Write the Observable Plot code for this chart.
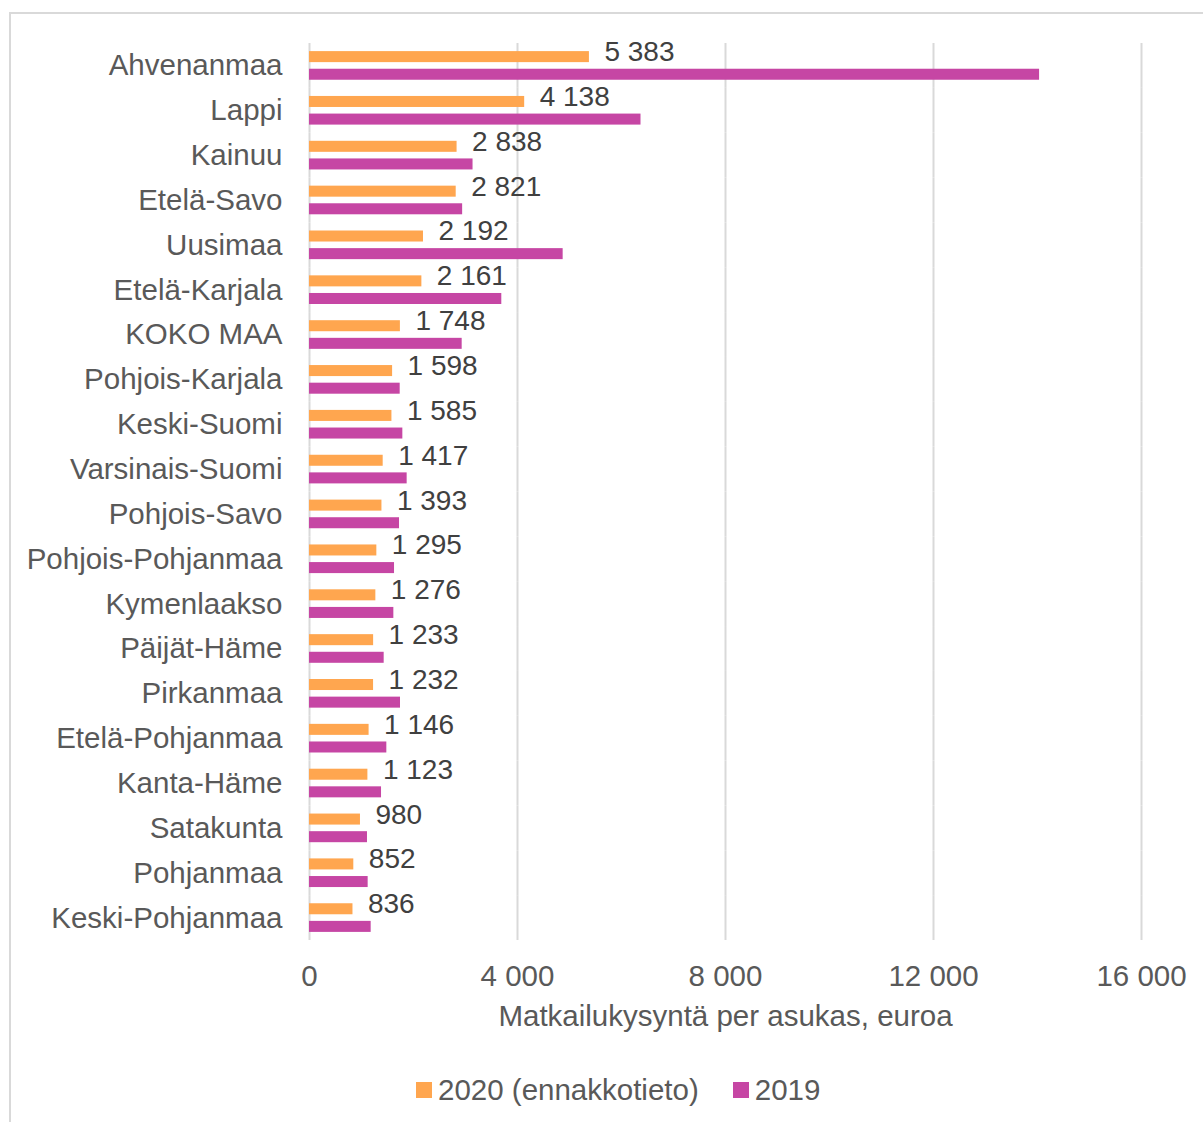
<!DOCTYPE html>
<html>
<head>
<meta charset="utf-8">
<script src="https://cdn.jsdelivr.net/npm/d3@7"></script>
<script src="https://cdn.jsdelivr.net/npm/@observablehq/plot@0.6"></script>
<style>
  html, body { margin: 0; padding: 0; background: #fff; }
  body { width: 1203px; height: 1122px; position: relative; overflow: hidden; font-family: "Liberation Sans", Arial, sans-serif; }
  #frame { position: absolute; left: 9px; top: 12px; width: 1400px; height: 1400px; border: 2px solid #d9d9d9; box-sizing: border-box; }
  #chart { position: absolute; left: 0; top: 0; }
  #legend { position: absolute; top: 1070px; left: 416px; height: 40px; display: flex; align-items: center; font-size: 29.5px; color: #595959; white-space: nowrap; }
  .sw { display: inline-block; width: 16px; height: 16px; margin-right: 6px; }
  .item { display: flex; align-items: center; margin-right: 34px; }
</style>
</head>
<body>
<div id="frame"></div>
<div id="chart"></div>
<div id="legend"></div>
<script>
const regions = ["Ahvenanmaa","Lappi","Kainuu","Etelä-Savo","Uusimaa","Etelä-Karjala","KOKO MAA","Pohjois-Karjala","Keski-Suomi","Varsinais-Suomi","Pohjois-Savo","Pohjois-Pohjanmaa","Kymenlaakso","Päijät-Häme","Pirkanmaa","Etelä-Pohjanmaa","Kanta-Häme","Satakunta","Pohjanmaa","Keski-Pohjanmaa"];
const values2020 = [5383,4138,2838,2821,2192,2161,1748,1598,1585,1417,1393,1295,1276,1233,1232,1146,1123,980,852,836];
const values2019 = [14040,6375,3145,2945,4878,3698,2936,1744,1795,1878,1731,1635,1622,1436,1750,1487,1385,1115,1128,1186];
const series = ["2020 (ennakkotieto)","2019"];
const seriesColors = ["#FFA64F","#C646A4"];
const xTicks = [0,4000,8000,12000,16000];
const xLabel = "Matkailukysyntä per asukas, euroa";

const fmt = d3.formatLocale({decimal: ",", thousands: " ", grouping: [3], currency: ["", " €"]}).format(",d");

const data = [];
regions.forEach((r, i) => {
  data.push({region: r, series: series[0], value: values2020[i]});
  data.push({region: r, series: series[1], value: values2019[i]});
});
const data2020 = data.filter(d => d.series === series[0]);

const chart = Plot.plot({
  width: 1203,
  height: 1040,
  marginLeft: 309,
  marginRight: 62,
  marginTop: 43,
  marginBottom: 100,
  facet: {marginTop: 0, marginBottom: 0, marginLeft: 0, marginRight: 0},
  style: {fontFamily: "'Liberation Sans', Arial, sans-serif", fontSize: "29.5px", color: "#595959", background: "transparent"},
  x: {domain: [0, 16000]},
  fy: {domain: regions, padding: 0, round: false, label: null},
  y: {domain: series, paddingInner: 0.375, paddingOuter: 0.46, round: false, axis: null},
  color: {domain: series, range: seriesColors},
  marks: [
    Plot.ruleX(xTicks.filter(d => d > 0), {stroke: "#d9d9d9", strokeWidth: 2}),
    Plot.ruleX([0], {stroke: "#d9d9d9", strokeWidth: 2}),
    Plot.barX(data, {x: "value", y: "series", fy: "region", fill: "series"}),
    Plot.text(data2020, {x: "value", y: "series", fy: "region", text: d => fmt(d.value), textAnchor: "start", dx: 15, dy: -5, fill: "#404040", fontSize: 28}),
    Plot.axisFy({anchor: "left", tickSize: 0, tickPadding: 27, label: null, fontSize: 29.5, fill: "#595959"}),
    Plot.axisX({anchor: "bottom", ticks: xTicks, tickFormat: fmt, tickSize: 0, tickPadding: 25, label: xLabel, labelAnchor: "center", labelArrow: "none", labelOffset: 85, fontSize: 29.5, fill: "#595959"})
  ]
});
document.getElementById("chart").appendChild(chart);

const legend = document.getElementById("legend");
series.forEach((s, i) => {
  const item = document.createElement("div");
  item.className = "item";
  const sw = document.createElement("span");
  sw.className = "sw";
  sw.style.background = seriesColors[i];
  const t = document.createElement("span");
  t.textContent = s;
  item.appendChild(sw);
  item.appendChild(t);
  legend.appendChild(item);
});
</script>
</body>
</html>
